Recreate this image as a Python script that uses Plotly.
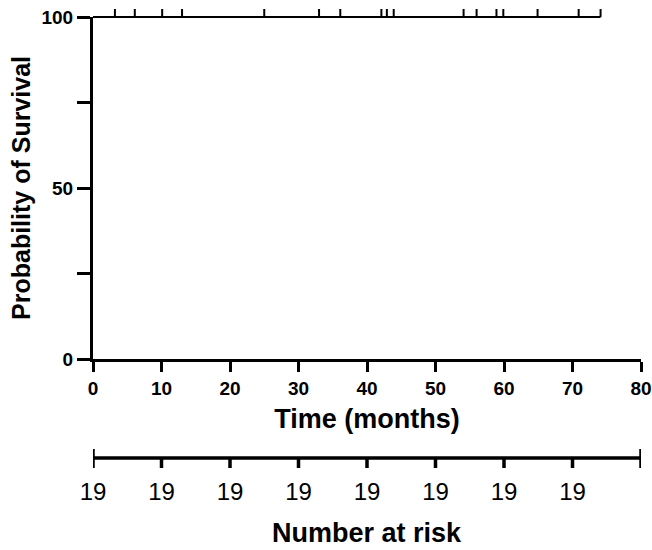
import plotly.graph_objects as go

# ---- data ----
censor_times = [3.2, 6.1, 10.1, 13.0, 25.0, 33.0, 36.1, 42.1, 42.9, 43.9,
                54.1, 56.0, 58.9, 59.9, 64.9, 70.9, 74.1]
curve_times = [0, 74.1]
curve_surv = [100, 100]
x_tick_vals = [0, 10, 20, 30, 40, 50, 60, 70, 80]
y_tick_vals = [0, 25, 50, 75, 100]
y_tick_text = ["0", "", "50", "", "100"]
risk_times = [0, 10, 20, 30, 40, 50, 60, 70]
risk_counts = [19, 19, 19, 19, 19, 19, 19, 19]
risk_axis_end = 80

FONT = "Liberation Sans, Arial, sans-serif"
BLACK = "#000000"

# layout geometry (pixels)
W, H = 652, 550
M_T, M_B, M_L, M_R = 5, 10, 93, 11
PLOT_H = H - M_T - M_B
def frac(px_from_top):
    return (H - M_B - px_from_top) / PLOT_H

MAIN_TOP, MAIN_BOT = 17, 359
RISK_TOP = 440
px_per_unit = (MAIN_BOT - MAIN_TOP) / 100.0
top_extra = (MAIN_TOP - M_T) / px_per_unit
censor_len = 8 / px_per_unit

fig = go.Figure()

# survival curve (drawn in the taller overlay subplot so it is not clipped)
fig.add_trace(go.Scatter(
    x=curve_times, y=curve_surv, mode="lines",
    line=dict(color=BLACK, width=1.8, shape="hv"),
    hoverinfo="skip", showlegend=False, xaxis="x3", yaxis="y3"))

# censor marks (upward ticks above the line)
cx, cy = [], []
for t, s in zip(censor_times, [curve_surv[0]] * len(censor_times)):
    cx += [t, t, None]
    cy += [s, s + censor_len, None]
fig.add_trace(go.Scatter(
    x=cx, y=cy, mode="lines", line=dict(color=BLACK, width=2),
    hoverinfo="skip", showlegend=False, xaxis="x3", yaxis="y3"))

# main axes (empty trace so the subplot exists)
fig.add_trace(go.Scatter(
    x=[None], y=[None], mode="lines", hoverinfo="skip", showlegend=False,
    xaxis="x", yaxis="y"))

# risk table axis line
fig.add_trace(go.Scatter(
    x=[0, risk_axis_end], y=[82, 82], mode="lines",
    line=dict(color=BLACK, width=3.5),
    hoverinfo="skip", showlegend=False, xaxis="x2", yaxis="y2"))

# risk table ticks
tx, ty = [], []
for t in x_tick_vals:
    if t == 0 or t == risk_axis_end:
        tx += [t, t, None]
        ty += [91, 72, None]
    else:
        tx += [t, t, None]
        ty += [82, 72, None]
fig.add_trace(go.Scatter(
    x=tx, y=ty, mode="lines", line=dict(color=BLACK, width=3.5),
    hoverinfo="skip", showlegend=False, xaxis="x2", yaxis="y2"))

# risk numbers
fig.add_trace(go.Scatter(
    x=risk_times, y=[46] * len(risk_times), mode="text",
    text=[str(c) for c in risk_counts], textposition="middle center",
    textfont=dict(family=FONT, size=24, color=BLACK),
    cliponaxis=False, hoverinfo="skip", showlegend=False,
    xaxis="x2", yaxis="y2"))

fig.update_layout(
    width=W, height=H,
    margin=dict(l=M_L, r=M_R, t=M_T, b=M_B),
    paper_bgcolor="white", plot_bgcolor="rgba(0,0,0,0)",
    font=dict(family=FONT, color=BLACK),
    xaxis=dict(
        domain=[0, 1], range=[0, 80], anchor="y", automargin=False,
        tickvals=x_tick_vals, ticks="outside", ticklen=10, tickwidth=3,
        tickcolor=BLACK, showline=True, linewidth=3, linecolor=BLACK,
        showgrid=False, zeroline=False,
        tickfont=dict(family=FONT, size=19, color=BLACK, weight="bold"),
        title=dict(text="Time (months)", standoff=12,
                   font=dict(family=FONT, size=27, color=BLACK, weight="bold")),
    ),
    yaxis=dict(
        domain=[frac(MAIN_BOT), frac(MAIN_TOP)], range=[0, 100], anchor="x",
        automargin=False,
        tickvals=y_tick_vals, ticktext=y_tick_text,
        ticks="outside", ticklen=13, tickwidth=3, tickcolor=BLACK,
        showline=True, linewidth=3, linecolor=BLACK,
        showgrid=False, zeroline=False,
        tickfont=dict(family=FONT, size=19, color=BLACK, weight="bold"),
        title=dict(text="Probability of Survival", standoff=4,
                   font=dict(family=FONT, size=25, color=BLACK, weight="bold")),
    ),
    xaxis2=dict(domain=[0, 1], range=[0, 80], anchor="y2", visible=False),
    yaxis2=dict(domain=[0, frac(RISK_TOP)], range=[0, 100], anchor="x2",
                visible=False),
    xaxis3=dict(domain=[0, 1], range=[0, 80], anchor="y3", visible=False),
    yaxis3=dict(domain=[frac(MAIN_BOT), 1], range=[0, 100 + top_extra],
                anchor="x3", visible=False),
    annotations=[dict(
        text="Number at risk", x=40, y=7, xref="x2", yref="y2",
        showarrow=False, xanchor="center", yanchor="middle",
        font=dict(family=FONT, size=27, color=BLACK, weight="bold"))],
)

fig.write_html("out.html",
               config={"displayModeBar": False},
               post_script="document.body.style.margin='0';"
                           "document.body.style.overflow='hidden';")
